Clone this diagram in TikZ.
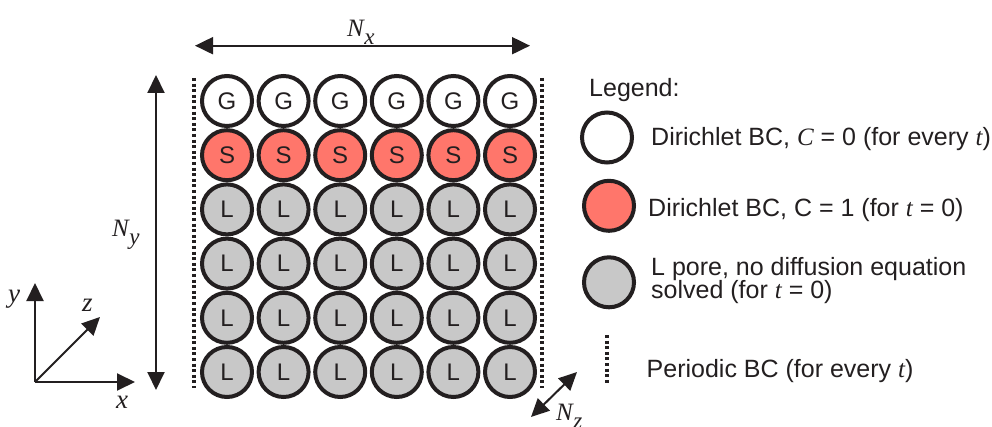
\documentclass[tikz,border=0pt]{standalone}
\usepackage{fontspec}
\setmainfont{Liberation Sans}
\newfontfamily\tms{Liberation Serif}
\usetikzlibrary{arrows.meta}
\definecolor{poreRed}{HTML}{FF766B}
\definecolor{poreGray}{HTML}{C8C8C8}
\definecolor{ink}{HTML}{231F20}
\newcommand{\vrb}[1]{{\tms\itshape #1}}
\newcommand{\Nsub}[1]{{\tms\itshape\fontsize{25}{25}\selectfont N\kern0.5pt\raisebox{-8pt}{\fontsize{23}{23}\selectfont #1}}}
\begin{document}
\begin{tikzpicture}[x=1pt,y=-1pt,
  pore/.style={circle, draw=ink, line width=4pt, minimum size=50pt, inner sep=0pt,
    text=ink, font=\fontsize{24}{24}\selectfont},
  periodic/.style={draw=ink, line width=4pt, dash pattern=on 3pt off 2.6pt},
  dimarrow/.style={draw=ink, line width=2pt, {Triangle[length=18pt,width=17pt]}-{Triangle[length=18pt,width=17pt]}},
  axisarrow/.style={draw=ink, line width=2pt, -{Triangle[length=18pt,width=17pt]}},
  legtext/.style={anchor=base west, text=ink, inner sep=0pt, font=\fontsize{25}{25}\selectfont},
  axlabel/.style={anchor=base west, text=ink, inner sep=0pt, font=\tms\itshape\fontsize{27}{27}\selectfont},
  dimlabel/.style={anchor=base west, text=ink, inner sep=0pt}]
\useasboundingbox (0,0) rectangle (992,427);
\fill[white] (0,0) rectangle (992,427);

% grid of pores
\foreach \i in {0,...,5} {
  \node[pore, fill=white] (g\i) at ({227+56.6*\i},101) {G};
  \node[pore, fill=poreRed] (s\i) at ({227+56.6*\i},155.2) {S};
  \foreach \j in {2,...,5}
    \node[pore, fill=poreGray] (l\i\j) at ({227+56.6*\i},{101+54.2*\j}) {L};
}

% periodic boundaries
\coordinate (pl1) at (194,78);
\coordinate (pl2) at (194,388);
\coordinate (pr1) at (542,78);
\coordinate (pr2) at (542,388);
\draw[periodic] (pl1) -- (pl2);
\draw[periodic] (pr1) -- (pr2);

% dimension arrows
\coordinate (nxl) at (195,45.7);
\coordinate (nxr) at (530,45.7);
\draw[dimarrow] (nxl) -- (nxr);
\node[dimlabel] (nxlab) at (347,37) {\Nsub{x}};

\coordinate (nyt) at (156,75);
\coordinate (nyb) at (156,390);
\draw[dimarrow] (nyt) -- (nyb);
\node[dimlabel] (nylab) at (112,237) {\Nsub{y}};

\coordinate (nza) at (531,417);
\coordinate (nzb) at (577,372);
\draw[dimarrow] (nza) -- (nzb);
\node[dimlabel] (nzlab) at (556,420) {\Nsub{z}};

% axes
\coordinate (o) at (35,382);
\coordinate (axx) at (135,382);
\coordinate (axy) at (35,283);
\coordinate (axz) at (100,317);
\draw[axisarrow] (o) -- (axx);
\draw[axisarrow] (o) -- (axy);
\draw[axisarrow] (o) -- (axz);
\node[axlabel] (xl) at (116,408) {x};
\node[axlabel] (yl) at (8,302) {y};
\node[axlabel] (zl) at (82,312) {z};

% legend
\node[legtext] (leg) at (589,97) {Legend:};
\node[pore, fill=white] (lg) at (607,137.5) {};
\node[pore, fill=poreRed] (ls) at (609,205.8) {};
\node[pore, fill=poreGray] (ll) at (609,282.3) {};
\node[legtext] (t1) at (651,146) {Dirichlet BC, \vrb{C} = 0 (for every \vrb{t})};
\node[legtext] (t2) at (648,216.7) {Dirichlet BC, C = 1 (for \vrb{t} = 0)};
\node[legtext] (t3) at (651,275.5) {L pore, no diffusion equation};
\node[legtext] (t3b) at (651,298.2) {solved (for \vrb{t} = 0)};
\coordinate (lp1) at (607,335);
\coordinate (lp2) at (607,385);
\draw[periodic] (lp1) -- (lp2);
\node[legtext] (t4) at (646.5,377.7) {Periodic BC (for every \vrb{t})};
\end{tikzpicture}
\end{document}
